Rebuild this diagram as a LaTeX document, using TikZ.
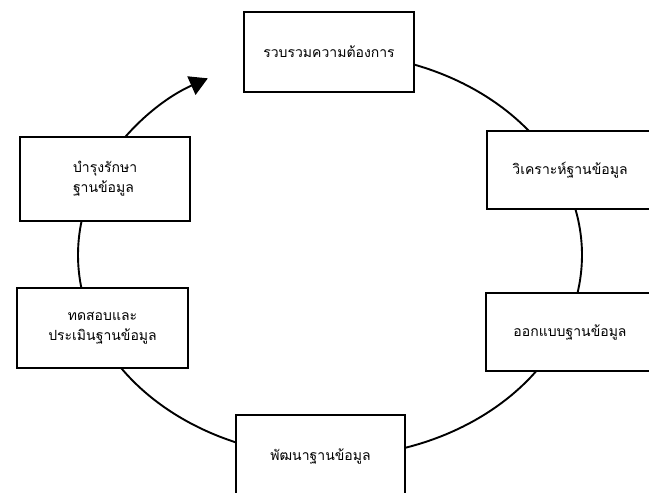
\documentclass[tikz,border=0pt]{standalone}
\usepackage{fontspec}
\newfontfamily\thaifont[Script=Thai]{Loma}
\usetikzlibrary{arrows.meta}
\begin{document}
\begin{tikzpicture}[x=1pt,y=1pt,
  stage/.style={draw=black, line width=2pt, fill=white, inner sep=0pt,
    font=\thaifont\fontsize{14}{20}\selectfont, align=center},
  ring/.style={draw=black, line width=1.9pt},
  ringtip/.style={ring, -{Triangle[length=18pt,width=20pt]}}]
\useasboundingbox (0,0) rectangle (649,493);
\fill[white] (0,0) rectangle (649,493);
\clip (0,0) rectangle (649,493);

% centre of the elliptical cycle and the points where it runs through each stage
\coordinate (c) at (330,238);
\path (c) ++(90:252pt and 202pt)   coordinate (p1)
      (c) ++(22:252pt and 202pt)   coordinate (p2)
      (c) ++(-20:252pt and 202pt)  coordinate (p3)
      (c) ++(-92:252pt and 202pt)  coordinate (p4)
      (c) ++(-155:252pt and 202pt) coordinate (p5)
      (c) ++(-205:252pt and 202pt) coordinate (p6)
      (c) ++(-241:252pt and 202pt) coordinate (tip);

% the cycle, drawn first so the boxes cover it
\draw[ring] (p1) arc[start angle=90, end angle=22, x radius=252pt, y radius=202pt];
\draw[ring] (p2) arc[start angle=22, end angle=-20, x radius=252pt, y radius=202pt];
\draw[ring] (p3) arc[start angle=-20, end angle=-92, x radius=252pt, y radius=202pt];
\draw[ring] (p4) arc[start angle=-92, end angle=-155, x radius=252pt, y radius=202pt];
\draw[ring] (p5) arc[start angle=-155, end angle=-205, x radius=252pt, y radius=202pt];
\draw[ringtip] (p6) arc[start angle=-205, end angle=-241, x radius=252pt, y radius=202pt];

% stages
\node[stage, minimum width=170pt, minimum height=80pt] (b1) at (329,441) {รวบรวมความต้องการ};
\node[stage, minimum width=166pt, minimum height=78pt] (b2) at (570,323) {วิเคราะห์ฐานข้อมูล};
\node[stage, minimum width=168pt, minimum height=78pt] (b3) at (570,161) {ออกแบบฐานข้อมูล};
\node[stage, minimum width=169pt, minimum height=82pt] (b4) at (320.5,37) {พัฒนาฐานข้อมูล};
\node[stage, minimum width=171pt, minimum height=80pt] (b5) at (102.5,165) {ทดสอบและ\\ประเมินฐานข้อมูล};
\node[stage, minimum width=170pt, minimum height=84pt, text width=64pt, align=left] (b6) at (105,314) {บำรุงรักษา\\ฐานข้อมูล};
\end{tikzpicture}
\end{document}
